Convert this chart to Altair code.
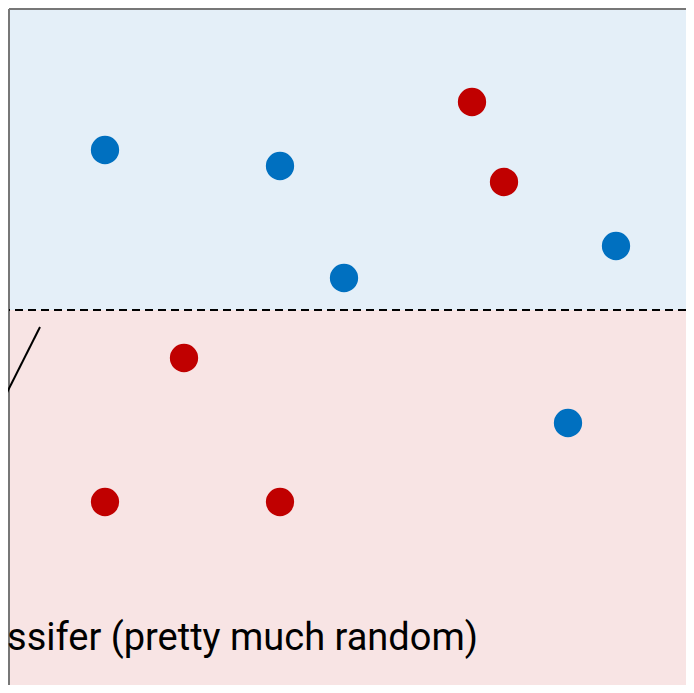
import altair as alt
import pandas as pd

# point data (x and y in chart units, y grows upward)
blue_x = [0.96, 2.71, 3.35, 6.07, 5.59]
blue_y = [8.59, 8.43, 7.31, 7.63, 5.86]
red_x = [4.63, 4.95, 1.75, 0.96, 2.71]
red_y = [9.07, 8.27, 6.51, 5.07, 5.07]

boundary_y = 6.99
x_min, x_max = 0, 6.77
y_min, y_max = 3.24, 10

line_x = [0.31, -0.40]
line_y = [6.82, 5.41]

label_text = "Classifer (pretty much random)"
label_x = 4.69
label_y = 3.59

W, H = 677, 676

pts = pd.DataFrame({
    "x": blue_x + red_x,
    "y": blue_y + red_y,
    "cls": ["blue"] * len(blue_x) + ["red"] * len(red_x),
})

xs = alt.Scale(domain=[x_min, x_max], nice=False, zero=False)
ys = alt.Scale(domain=[y_min, y_max], nice=False, zero=False)

regions = pd.DataFrame({
    "x": [x_min, x_min], "x2": [x_max, x_max],
    "y": [boundary_y, y_min], "y2": [y_max, boundary_y],
    "c": ["#E4EFF8", "#F8E4E4"],
})

bg = alt.Chart(regions).mark_rect().encode(
    x=alt.X("x:Q", scale=xs, axis=None),
    x2="x2:Q",
    y=alt.Y("y:Q", scale=ys, axis=None),
    y2="y2:Q",
    color=alt.Color("c:N", scale=None),
)

left_border = alt.Chart(pd.DataFrame({"x": [x_min]})).mark_rule(
    color="#777777", strokeWidth=2
).encode(x=alt.X("x:Q", scale=xs, axis=None))

top_border = alt.Chart(pd.DataFrame({"y": [y_max]})).mark_rule(
    color="#777777", strokeWidth=2
).encode(y=alt.Y("y:Q", scale=ys, axis=None))

dash = alt.Chart(pd.DataFrame({"y": [boundary_y]})).mark_rule(
    color="black", strokeWidth=2, strokeDash=[8, 5]
).encode(y=alt.Y("y:Q", scale=ys, axis=None))

dots = alt.Chart(pts).mark_circle(size=800, opacity=1).encode(
    x=alt.X("x:Q", scale=xs, axis=None),
    y=alt.Y("y:Q", scale=ys, axis=None),
    color=alt.Color("cls:N", scale=alt.Scale(domain=["blue", "red"], range=["#0070C0", "#C00000"]), legend=None),
)

ann = alt.Chart(pd.DataFrame({"x": line_x, "y": line_y})).mark_line(
    color="black", strokeWidth=2
).encode(x=alt.X("x:Q", scale=xs, axis=None), y=alt.Y("y:Q", scale=ys, axis=None))

txt = alt.Chart(pd.DataFrame({"x": [label_x], "y": [label_y], "t": [label_text]})).mark_text(
    align="right", baseline="alphabetic", fontSize=38,
    font="Roboto", color="black"
).encode(x=alt.X("x:Q", scale=xs, axis=None), y=alt.Y("y:Q", scale=ys, axis=None), text="t:N")

chart = alt.layer(bg, left_border, top_border, dash, dots, ann, txt).properties(
    width=W, height=H,
    autosize=alt.AutoSizeParams(type="none"),
    padding={"left": 1, "top": 1, "right": 0, "bottom": 0},
).configure_view(stroke=None)

chart.save("out.html", embed_options={"renderer": "svg", "actions": False})
